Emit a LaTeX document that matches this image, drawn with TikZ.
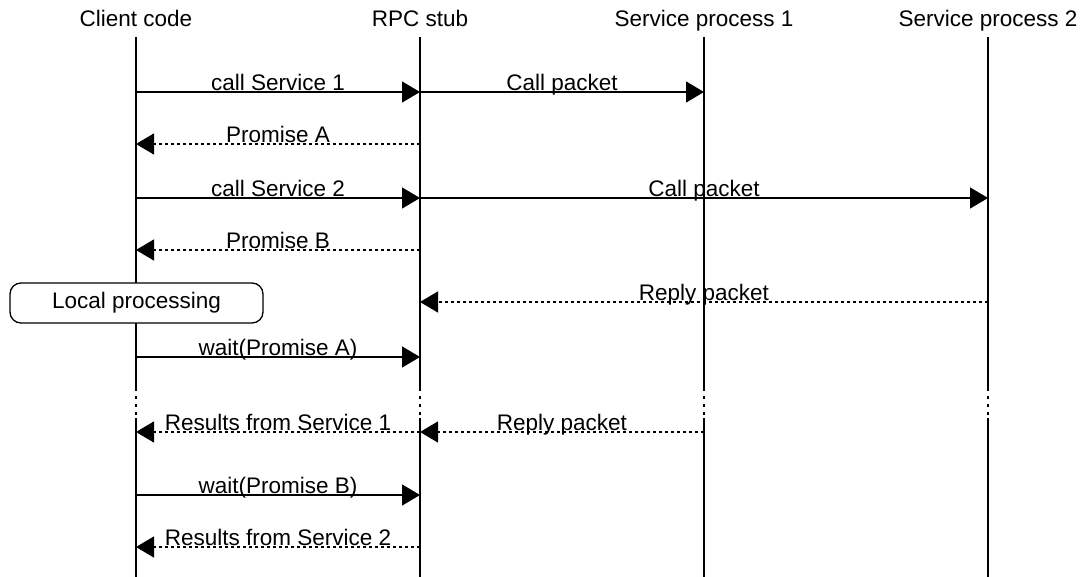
\documentclass[tikz,border=0pt]{standalone}
\usepackage{fontspec}
\setmainfont{Liberation Sans}
\usetikzlibrary{arrows.meta}

\tikzset{
  lifeline/.style={line width=1.3pt, black},
  gapline/.style={line width=1.3pt, black, dash pattern=on 3pt off 5pt},
  call/.style={line width=1.3pt, -{Triangle[length=18pt,width=21pt]}},
  reply/.style={line width=1.3pt, dash pattern=on 3pt off 3pt, -{Triangle[length=18pt,width=21pt]}},
  head/.style={anchor=base, inner sep=0pt, font=\fontsize{22.5}{27}\selectfont},
  msg/.style={anchor=base, inner sep=0pt, yshift=1.5pt, font=\fontsize{22.5}{27}\selectfont},
  activity/.style={draw, line width=1.3pt, fill=white, rounded corners=11pt,
    minimum width=253pt, minimum height=40pt, inner sep=0pt,
    font=\fontsize{22.5}{27}\selectfont}
}

\begin{document}
\begin{tikzpicture}[x=1pt, y=-1pt]
\useasboundingbox (0,0) rectangle (1085,577);

% participant headings
\node[head] (hc)  at (136,27) {Client code};
\node[head] (hr)  at (420,27) {RPC stub};
\node[head] (hs1) at (704,27) {Service process 1};
\node[head] (hs2) at (988,27) {Service process 2};

% lifelines: solid, a dotted break, solid again
\foreach \n/\x in {c/136, r/420, a/704, b/988} {
  \coordinate (\n top) at (\x,37);
  \coordinate (\n gs) at (\x,388);
  \coordinate (\n ge) at (\x,418);
  \coordinate (\n bot) at (\x,577);
  \draw[lifeline] (\n top) -- (\n gs);
  \draw[gapline] (\n gs) -- (\n ge);
  \draw[lifeline] (\n ge) -- (\n bot);
}

% message end points on each lifeline
\foreach \n/\x in {c/136, r/420, a/704, b/988} {
  \foreach \k/\y in {1/92, 2/144, 3/198, 4/250, 5/302, 6/357, 7/432, 8/495, 9/547} {
    \coordinate (\n\k) at (\x,\y);
  }
}

% local activity on the client
\node[activity] (local) at (136.5,303) {Local processing};

% messages
\draw[call] (c1) -- node[msg] (m1) {call Service 1} (r1);
\draw[call] (r1) -- node[msg] (m2) {Call packet} (a1);
\draw[reply] (r2) -- node[msg] (m3) {Promise A} (c2);
\draw[call] (c3) -- node[msg] (m4) {call Service 2} (r3);
\draw[call] (r3) -- node[msg] (m5) {Call packet} (b3);
\draw[reply] (r4) -- node[msg] (m6) {Promise B} (c4);
\draw[reply] (b5) -- node[msg] (m7) {Reply packet} (r5);
\draw[call] (c6) -- node[msg] (m8) {wait(Promise A)} (r6);
\draw[reply] (r7) -- node[msg] (m9) {Results from Service 1} (c7);
\draw[reply] (a7) -- node[msg] (m10) {Reply packet} (r7);
\draw[call] (c8) -- node[msg] (m11) {wait(Promise B)} (r8);
\draw[reply] (r9) -- node[msg] (m12) {Results from Service 2} (c9);
\end{tikzpicture}
\end{document}
